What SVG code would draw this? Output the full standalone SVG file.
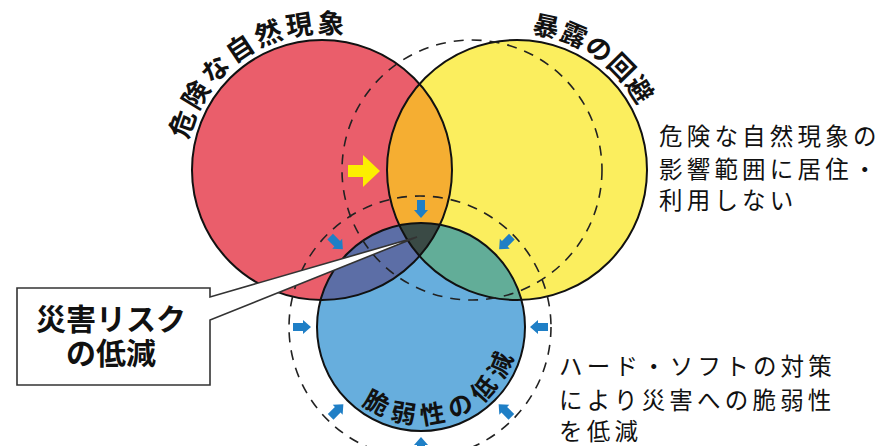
<svg xmlns="http://www.w3.org/2000/svg" xmlns:xlink="http://www.w3.org/1999/xlink" width="890" height="446" viewBox="0 0 890 446">
<style>
.outline{fill:none;stroke:#111;stroke-width:2}
.dash{fill:none;stroke:#222;stroke-width:1.6;stroke-dasharray:10 8}
.arc{font-family:"Noto Sans CJK JP","Noto Sans CJK SC",sans-serif;font-weight:bold;fill:#111}
.note{font-family:"Noto Sans CJK JP","Noto Sans CJK SC",sans-serif;font-size:23.5px;letter-spacing:4.2px;fill:#111}
.box{font-family:"Noto Sans CJK JP","Noto Sans CJK SC",sans-serif;font-weight:bold;font-size:30px;fill:#111}
.barrow{fill:#1f7fc6}
</style>
<defs>
<clipPath id="cr"><circle cx="322" cy="170" r="130"/></clipPath>
<clipPath id="cy"><circle cx="517" cy="170" r="130"/></clipPath>
<path id="ba" d="M-9,-4 H1 V-7 L9,0 L1,7 V4 H-9 Z"/>
<path id="pRed" d="M188.8,202 A137,137 0 0 1 403.5,59.9"/>
<path id="pYel" d="M437.1,58.7 A137,137 0 0 1 649.8,203.8"/>
<path id="pBlu" d="M345.9,388.4 A97,97 0 0 0 518,328.3"/>
</defs>
<rect width="890" height="446" fill="#fff"/>

<g id="hazard">
<circle cx="322" cy="170" r="130" fill="#ea5e6b"/>
</g>
<g id="exposure">
<circle cx="517" cy="170" r="130" fill="#fbee5e"/>
<circle cx="517" cy="170" r="130" fill="#f5ae32" clip-path="url(#cr)"/>
</g>
<g id="vulnerability">
<circle cx="421" cy="327" r="104" fill="#67aedd"/>
<circle cx="421" cy="327" r="104" fill="#5c6ea6" clip-path="url(#cr)"/>
<circle cx="421" cy="327" r="104" fill="#62ad98" clip-path="url(#cy)"/>
<g clip-path="url(#cy)"><circle cx="421" cy="327" r="104" fill="#3a4a45" clip-path="url(#cr)"/></g>
</g>
<g id="outlines">
<circle class="outline" cx="322" cy="170" r="130"/>
<circle class="outline" cx="517" cy="170" r="130"/>
<circle class="outline" cx="421" cy="327" r="104"/>
</g>
<g id="dashed">
<circle class="dash" cx="472" cy="170" r="130"/>
<circle class="dash" cx="420" cy="327" r="131"/>
</g>

<g id="connectors">
<path d="M348,165 H363 V155 L380,171 L363,187 V177 H348 Z" fill="#fcef00"/>
<use href="#ba" class="barrow" transform="translate(421,209) rotate(90)"/>
<use href="#ba" class="barrow" transform="translate(336.5,243) rotate(45)"/>
<use href="#ba" class="barrow" transform="translate(505.5,243) rotate(135)"/>
<use href="#ba" class="barrow" transform="translate(302,327)"/>
<use href="#ba" class="barrow" transform="translate(539,327) rotate(180)"/>
<use href="#ba" class="barrow" transform="translate(337,410.5) rotate(-45)"/>
<use href="#ba" class="barrow" transform="translate(505,410.5) rotate(-135)"/>
<use href="#ba" class="barrow" transform="translate(421,446) rotate(-90)"/>
</g>

<g id="callout">
<path d="M17,288 H210 V297 L417,237 L210,320 V385 H17 Z" fill="#fff" stroke="#333" stroke-width="1.6" stroke-linejoin="miter"/>
<text class="box" text-anchor="middle"><tspan x="111" y="330">災害リスク</tspan><tspan x="111" y="364">の低減</tspan></text>
</g>

<g id="label-hazard">
<text class="arc" font-size="27" letter-spacing="3"><textPath href="#pRed" startOffset="50%" text-anchor="middle">危険な自然現象</textPath></text>
</g>
<g id="label-exposure">
<text class="arc" font-size="26" letter-spacing="1"><textPath href="#pYel" startOffset="50%" text-anchor="middle">暴露の回避</textPath></text>
</g>
<g id="label-vulnerability">
<text class="arc" font-size="25" letter-spacing="7"><textPath href="#pBlu" startOffset="50%" text-anchor="middle">脆弱性の低減</textPath></text>
</g>

<g id="note-exposure">
<text class="note"><tspan x="659" y="145">危険な自然現象の</tspan><tspan x="659" y="178">影響範囲に居住・</tspan><tspan x="659" y="209">利用しない</tspan></text>
</g>
<g id="note-vulnerability">
<text class="note"><tspan x="559" y="375">ハード・ソフトの対策</tspan><tspan x="559" y="409">により災害への脆弱性</tspan><tspan x="559" y="440">を低減</tspan></text>
</g>
</svg>
